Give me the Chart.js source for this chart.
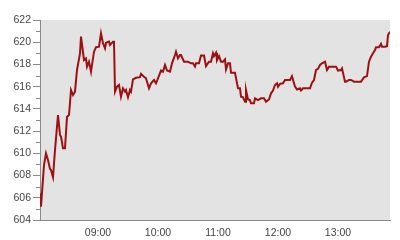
<!DOCTYPE html>
<html>
<head>
<meta charset="utf-8">
<script src="https://cdn.jsdelivr.net/npm/chart.js@4"></script>
<style>
  html, body { margin: 0; padding: 0; background: #fff; }
  #wrap { width: 400px; height: 240px; }
</style>
</head>
<body>
<div id="wrap"><canvas id="chart" width="400" height="240"></canvas></div>
<script>
const times = [
  '08:02','08:03','08:06','08:08','08:10','08:12','08:13','08:15','08:17','08:20',
  '08:22','08:23','08:25','08:27','08:29','08:31','08:33','08:35','08:37','08:39',
  '08:42','08:43','08:46','08:48','08:49','08:51','08:53','08:56','08:58','09:01',
  '09:03','09:05','09:07','09:08','09:11','09:12','09:15','09:16','09:17','09:19',
  '09:21','09:23','09:25','09:27','09:28','09:30','09:32','09:33','09:35','09:38',
  '09:42','09:43','09:46','09:48','09:51','09:53','09:56','09:58','10:00','10:03',
  '10:05','10:07','10:09','10:12','10:14','10:17','10:18','10:20','10:22','10:23',
  '10:26','10:30','10:33','10:35','10:37','10:38','10:41','10:43','10:46','10:48',
  '10:51','10:53','10:55','10:56','10:58','10:59','11:01','11:03','11:05','11:07',
  '11:08','11:10','11:12','11:13','11:17','11:20','11:22','11:23','11:25','11:27',
  '11:28','11:30','11:32','11:33','11:36','11:37','11:40','11:43','11:46','11:48',
  '11:51','11:53','11:55','11:57','11:59','12:00','12:02','12:05','12:07','12:12',
  '12:14','12:17','12:19','12:22','12:23','12:25','12:28','12:32','12:34','12:36',
  '12:38','12:40','12:42','12:44','12:47','12:49','12:51','12:55','12:58','13:00',
  '13:03','13:04','13:07','13:08','13:11','13:13','13:16','13:20','13:23','13:26',
  '13:29','13:31','13:33','13:35','13:37','13:38','13:41','13:43','13:44','13:47',
  '13:49','13:50','13:52'
];
const prices = [
  606.4, 605.2, 608.95, 610.0, 609.4, 608.6, 608.5, 607.85, 610.3, 613.45,
  611.65, 611.5, 610.45, 610.45, 613.3, 613.45, 615.7, 615.25, 615.55, 617.5,
  619.0, 620.5, 618.4, 618.55, 617.8, 618.25, 617.35, 619.15, 619.55, 619.6,
  620.8, 619.9, 619.45, 619.95, 620.05, 619.75, 620.05, 620.05, 615.55, 616.0,
  616.15, 615.1, 615.85, 615.55, 615.7, 615.05, 615.7, 615.55, 616.65, 616.8,
  616.85, 617.15, 616.9, 616.75, 615.85, 616.3, 616.6, 616.3, 616.75, 617.45,
  617.35, 617.95, 617.45, 617.35, 618.1, 618.85, 619.15, 618.55, 618.85, 618.85,
  618.25, 618.25, 618.1, 618.1, 617.8, 618.1, 618.1, 618.8, 618.8, 617.85,
  618.25, 618.25, 619.0, 618.75, 619.05, 618.4, 618.75, 618.25, 618.25, 618.45,
  617.55, 618.1, 618.1, 617.25, 617.25, 615.85, 615.85, 615.1, 615.05, 614.65,
  615.7, 614.85, 614.8, 614.5, 614.5, 614.95, 614.8, 614.95, 614.95, 614.65,
  614.85, 615.4, 615.65, 616.15, 616.3, 616.0, 616.25, 616.3, 616.6, 616.6,
  616.95, 616.0, 615.75, 615.85, 615.65, 615.85, 615.85, 615.85, 616.35, 616.6,
  617.5, 617.6, 617.95, 618.1, 618.25, 617.5, 617.8, 617.8, 617.8, 617.45,
  617.5, 617.65, 616.45, 616.45, 616.6, 616.6, 616.45, 616.45, 616.45, 616.85,
  616.95, 618.25, 618.7, 619.0, 619.3, 619.55, 619.55, 619.85, 619.6, 619.6,
  619.65, 620.65, 620.95
];
const hourTicks = ['09:00', '10:00', '11:00', '12:00', '13:00'];
const yMin = 604;
const yMax = 622;

function toMin(t) {
  const [h, m] = t.split(':').map(Number);
  return h * 60 + m;
}
function toLabel(v) {
  const h = Math.floor(v / 60), m = v % 60;
  return String(h).padStart(2, '0') + ':' + String(m).padStart(2, '0');
}

const axisColor = '#8a8a8a';
const textColor = '#444';

// grey plot background + short minor ticks on odd values
const plotBg = {
  id: 'plotBg',
  beforeDraw(chart) {
    const a = chart.chartArea, c = chart.ctx;
    c.save();
    c.fillStyle = '#e3e3e3';
    c.fillRect(a.left, a.top, a.right - a.left, a.bottom - a.top);
    c.restore();
  },
  afterDraw(chart) {
    const y = chart.scales.y, c = chart.ctx;
    c.save();
    c.strokeStyle = axisColor;
    c.lineWidth = 1;
    for (let v = yMin + 1; v < yMax; v += 2) {
      const py = Math.round(y.getPixelForValue(v)) + 0.5;
      c.beginPath();
      c.moveTo(y.right - 4, py);
      c.lineTo(y.right, py);
      c.stroke();
    }
    c.restore();
  }
};

new Chart(document.getElementById('chart'), {
  type: 'line',
  data: {
    datasets: [{
      data: times.map((t, i) => ({ x: toMin(t), y: prices[i] })),
      borderColor: '#9e0f12',
      borderWidth: 2,
      pointRadius: 0,
      tension: 0,
      fill: false
    }]
  },
  options: {
    responsive: false,
    animation: false,
    layout: { padding: { left: 0, right: 10, top: 20, bottom: 0 } },
    plugins: { legend: { display: false }, tooltip: { enabled: false } },
    scales: {
      x: {
        type: 'linear',
        min: toMin(times[0]),
        max: toMin(times[times.length - 1]),
        afterBuildTicks(scale) {
          scale.ticks = hourTicks.map(t => ({ value: toMin(t) }));
        },
        afterFit(scale) { scale.height = 20; },
        grid: { display: true, drawOnChartArea: false, drawTicks: false },
        border: { color: axisColor, width: 1 },
        ticks: {
          autoSkip: false,
          maxRotation: 0,
          padding: 7,
          color: textColor,
          font: { family: 'Liberation Sans', size: 10.5 },
          callback: v => toLabel(v)
        }
      },
      y: {
        min: yMin,
        max: yMax,
        afterFit(scale) { scale.width = 40; },
        grid: {
          drawOnChartArea: false,
          tickLength: 7,
          tickColor: ctx => (ctx.tick && ctx.tick.value % 2 === 0) ? axisColor : 'rgba(0,0,0,0)'
        },
        border: { color: axisColor, width: 1 },
        ticks: {
          stepSize: 1,
          autoSkip: false,
          padding: 2,
          color: textColor,
          font: { family: 'Liberation Sans', size: 10.5 },
          callback: v => (v % 2 === 0 ? String(v) : '')
        }
      }
    }
  },
  plugins: [plotBg]
});
</script>
</body>
</html>
